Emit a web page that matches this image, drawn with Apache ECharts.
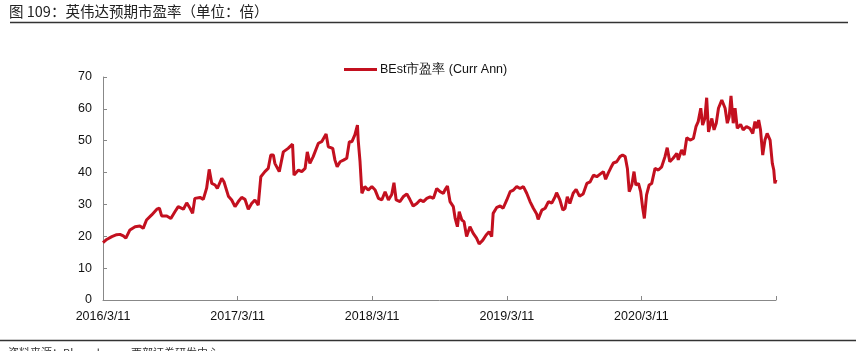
<!DOCTYPE html>
<html>
<head>
<meta charset="utf-8">
<script src="https://cdn.jsdelivr.net/npm/echarts@6/dist/echarts.min.js"></script>
<style>
html,body{margin:0;padding:0;background:#fff;}
#chart{width:856px;height:351px;}
</style>
</head>
<body>
<div id="chart"></div>
<script>
// Days since 2016/3/11 (x position)
const dayOffsets = [0,10,24,37,46,55,62,73,87,100,109,118,132,146,153,159,173,184,195,204,218,227,236,243,249,263,272,281,288,295,304,310,322,328,340,349,358,367,376,385,394,403,412,421,428,439,448,455,462,466,478,489,502,514,518,530,539,548,554,561,570,584,593,605,611,623,629,635,643,652,661,668,675,683,690,692,697,702,710,719,729,738,747,756,765,774,783,789,795,805,814,824,832,841,851,860,869,878,887,896,905,914,923,927,934,941,950,955,961,966,973,979,986,995,1004,1013,1020,1030,1039,1047,1054,1058,1068,1077,1085,1095,1104,1113,1122,1131,1140,1149,1158,1167,1176,1180,1190,1199,1208,1217,1226,1230,1239,1247,1253,1259,1266,1275,1283,1292,1302,1312,1321,1330,1339,1348,1357,1363,1370,1377,1384,1393,1402,1409,1416,1422,1427,1434,1440,1445,1452,1458,1463,1468,1474,1481,1488,1497,1506,1515,1524,1530,1537,1546,1556,1560,1569,1576,1583,1592,1601,1608,1614,1621,1626,1632,1637,1642,1651,1657,1663,1669,1678,1687,1693,1698,1703,1709,1714,1720,1729,1736,1745,1754,1762,1768,1773,1778,1783,1789,1795,1801,1809,1815,1819,1822,1825];
// BEst P/E (Curr Ann)
const peValues = [18.0,19.0,19.9,20.5,20.6,20.1,19.4,22.0,23.0,23.2,22.5,25.1,26.7,28.5,28.8,26.4,26.4,25.6,27.7,29.3,28.5,30.5,28.8,27.2,31.9,32.2,31.6,35.1,41.0,36.6,36.1,35.0,38.2,37.1,32.6,31.4,29.3,30.9,32.2,31.6,28.5,30.3,31.4,29.8,38.7,40.3,41.3,45.5,45.5,42.9,40.3,46.5,47.6,48.9,39.2,40.8,40.3,41.3,46.5,42.9,45.0,49.2,49.7,52.1,48.1,47.6,43.9,41.8,43.4,43.9,44.5,49.7,49.7,51.8,54.9,50.2,43.4,33.5,35.6,34.5,35.6,34.5,31.9,31.4,34.0,31.4,33.1,36.8,31.4,30.9,32.4,33.3,31.6,29.5,30.3,31.4,30.9,31.9,32.4,31.9,35.0,34.0,33.5,34.5,35.8,30.9,29.3,25.6,23.0,27.7,25.1,24.6,19.9,23.0,20.9,19.4,17.6,18.8,20.4,21.4,19.9,27.2,29.1,29.5,28.8,31.4,34.0,34.5,35.6,35.0,35.6,33.5,30.9,28.8,27.0,25.3,28.2,28.8,30.9,30.4,32.4,33.7,31.4,28.2,28.8,32.4,30.3,33.5,34.7,32.6,33.3,36.6,37.1,39.2,38.7,39.5,40.3,37.9,39.8,41.5,43.0,43.4,45.0,45.5,45.0,41.3,34.0,36.1,40.3,36.1,36.6,34.0,29.3,25.6,33.0,36.1,36.6,41.3,40.8,41.8,45.0,47.8,43.4,44.5,46.0,44.0,47.1,45.5,50.9,50.2,50.7,54.4,56.0,60.2,54.9,57.0,63.5,52.8,57.0,53.4,55.5,60.2,62.8,60.2,55.5,57.5,64.1,55.5,60.2,53.9,55.1,53.4,54.4,53.9,52.3,56.0,53.9,56.5,53.4,45.5,50.2,52.3,50.2,42.9,40.8,36.6,37.7];
const tickLabels = ['2016/3/11','2017/3/11','2018/3/11','2019/3/11','2020/3/11',''];
const seriesName = 'BEst市盈率 (Curr Ann)';
const titleText = '图 109：英伟达预期市盈率（单位：倍）';
const sourceText = '资料来源：Bloomberg，西部证券研发中心';

const chart = echarts.init(document.getElementById('chart'));
const lineColor = '#c3101f';
const font = '"Liberation Sans", Arial, sans-serif';
chart.setOption({
  animation: false,
  backgroundColor: '#fff',
  graphic: [
    {type:'text', left: 9, top: 4, style:{text: titleText, fontSize: 14.5, fill:'#222', fontFamily:'"Noto Sans CJK SC", sans-serif'}},
    {type:'line', shape:{x1:10, y1:22.5, x2:848, y2:22.5}, style:{stroke:'#333', lineWidth:1.5}},
    {type:'line', shape:{x1:0, y1:340.5, x2:856, y2:340.5}, style:{stroke:'#333', lineWidth:1.5}},
    {type:'text', left: 8, top: 347, style:{text: sourceText, fontSize: 11, fill:'#333', fontFamily:'"Noto Sans CJK SC", sans-serif'}}
  ],
  legend: {
    left: 339, top: 58,
    icon: 'rect', itemWidth: 33, itemHeight: 3, itemGap: 10,
    textStyle: {fontSize: 12.5, color: '#111', fontFamily: font, padding:[0,0,0,-2]},
    data: [seriesName]
  },
  grid: {left: 103, right: 80, top: 77, bottom: 51, containLabel: false},
  xAxis: {
    type: 'value', min: 0, max: 1825, interval: 365,
    axisLine: {show: true, lineStyle: {color: '#888', width: 1}},
    axisTick: {show: true, inside: true, length: 4, lineStyle: {color: '#888'}},
    splitLine: {show: false},
    axisLabel: {
      fontSize: 12.5, color: '#111', fontFamily: font, margin: 10,
      formatter: v => tickLabels[Math.round(v / 365)] || ''
    }
  },
  yAxis: {
    type: 'value', min: 0, max: 70, interval: 10,
    axisLine: {show: true, lineStyle: {color: '#888', width: 1}},
    axisTick: {show: true, inside: true, length: 4, lineStyle: {color: '#888'}},
    splitLine: {show: false},
    axisLabel: {fontSize: 12.5, color: '#111', fontFamily: font, margin: 11}
  },
  series: [{
    name: seriesName,
    type: 'line',
    data: dayOffsets.map((d, i) => [d, peValues[i]]),
    showSymbol: false,
    symbol: 'none',
    color: lineColor,
    lineStyle: {color: lineColor, width: 3},
    clip: false
  }]
});
</script>
</body>
</html>
